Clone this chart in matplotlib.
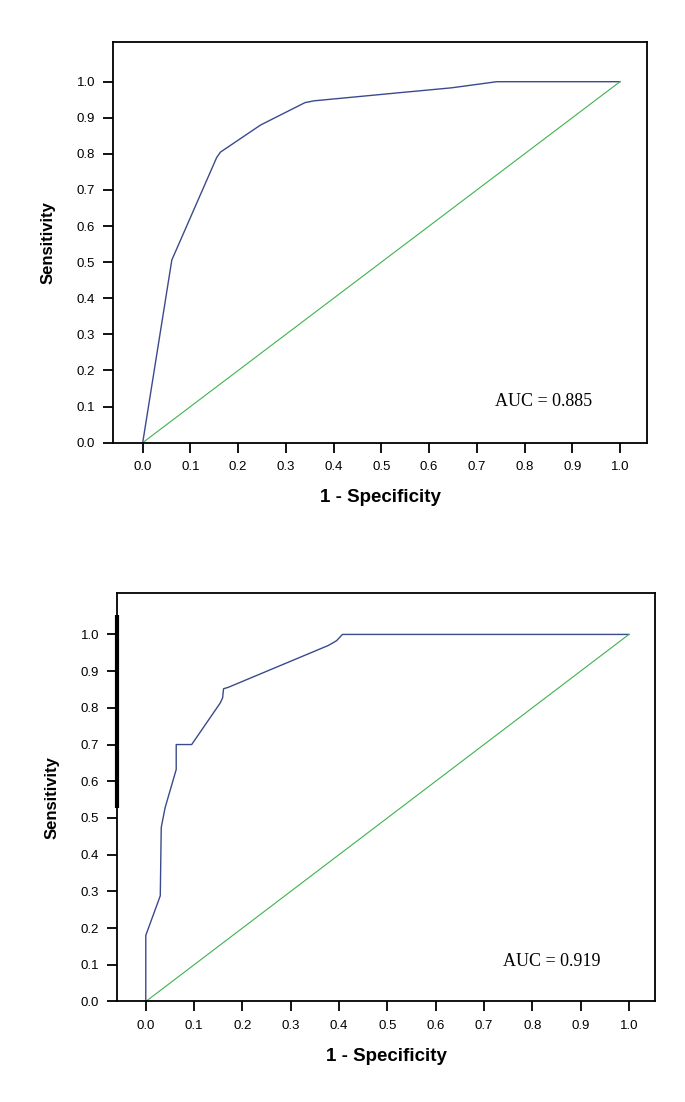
import numpy as np
import matplotlib
matplotlib.use('Agg')
import matplotlib.pyplot as plt

plt.rcParams['font.family'] = ['Liberation Sans', 'DejaVu Sans']

# ROC 1
fpr1 = [0.0, 0.061, 0.155, 0.163, 0.247, 0.340, 0.359, 0.542, 0.647, 0.675, 0.742, 1.0]
tpr1 = [0.0, 0.506, 0.790, 0.805, 0.880, 0.942, 0.947, 0.970, 0.983, 0.988, 1.0, 1.0]
auc1 = 'AUC = 0.885'

# ROC 2
fpr2 = [0.0, 0.0, 0.030, 0.032, 0.040, 0.063, 0.063, 0.095, 0.154, 0.159, 0.161, 0.171,
        0.378, 0.395, 0.407, 1.0]
tpr2 = [0.0, 0.180, 0.288, 0.474, 0.528, 0.632, 0.700, 0.700, 0.813, 0.827, 0.852, 0.856,
        0.970, 0.983, 1.0, 1.0]
auc2 = 'AUC = 0.919'

ticks = [0.0, 0.1, 0.2, 0.3, 0.4, 0.5, 0.6, 0.7, 0.8, 0.9, 1.0]
tick_labels = ['0.0', '0.1', '0.2', '0.3', '0.4', '0.5', '0.6', '0.7', '0.8', '0.9', '1.0']

roc_color = '#3b4a8c'
diag_color = '#3fb24f'

fig = plt.figure(figsize=(6.85, 11.02), dpi=100)

def roc_panel(rect, fpr, tpr, auc_txt, xlim, ylim, auc_xy):
    ax = fig.add_axes(rect)
    ax.plot(fpr, tpr, color=roc_color, lw=1.0)
    ax.plot([0, 1], [0, 1], color=diag_color, lw=0.8)
    ax.set_xlim(*xlim)
    ax.set_ylim(*ylim)
    ax.set_xticks(ticks)
    ax.set_xticklabels(tick_labels)
    ax.set_yticks(ticks)
    ax.set_yticklabels(tick_labels)
    for s in ax.spines.values():
        s.set_linewidth(1.3)
    ax.tick_params(axis='both', direction='out', length=7, width=1.3,
                   labelsize=9.5, pad=6, colors='black')
    ax.set_xlabel('1 - Specificity', fontsize=13.5, fontweight='bold', labelpad=12)
    ax.set_ylabel('Sensitivity', fontsize=12, fontweight='bold', labelpad=15)
    ax.text(auc_xy[0], auc_xy[1], auc_txt, fontsize=13, va='center', ha='left',
            family=['Liberation Serif', 'DejaVu Serif'])
    return ax

ax1 = roc_panel([0.1654, 0.5983, 0.7787, 0.3636], fpr1, tpr1, auc1,
                (-0.0616, 1.056), (0.0, 1.11), (0.738, 0.114))

ax2 = roc_panel([0.1712, 0.0912, 0.785, 0.3704], fpr2, tpr2, auc2,
                (-0.059, 1.054), (0.0, 1.112), (0.740, 0.109))

# thick dark mark on left spine of lower panel (as in the scan)
ax2.plot([-0.059, -0.059], [0.527, 1.053], color='black', lw=3.0,
         clip_on=False, solid_capstyle='butt')

fig.savefig('out.png', dpi=100)
